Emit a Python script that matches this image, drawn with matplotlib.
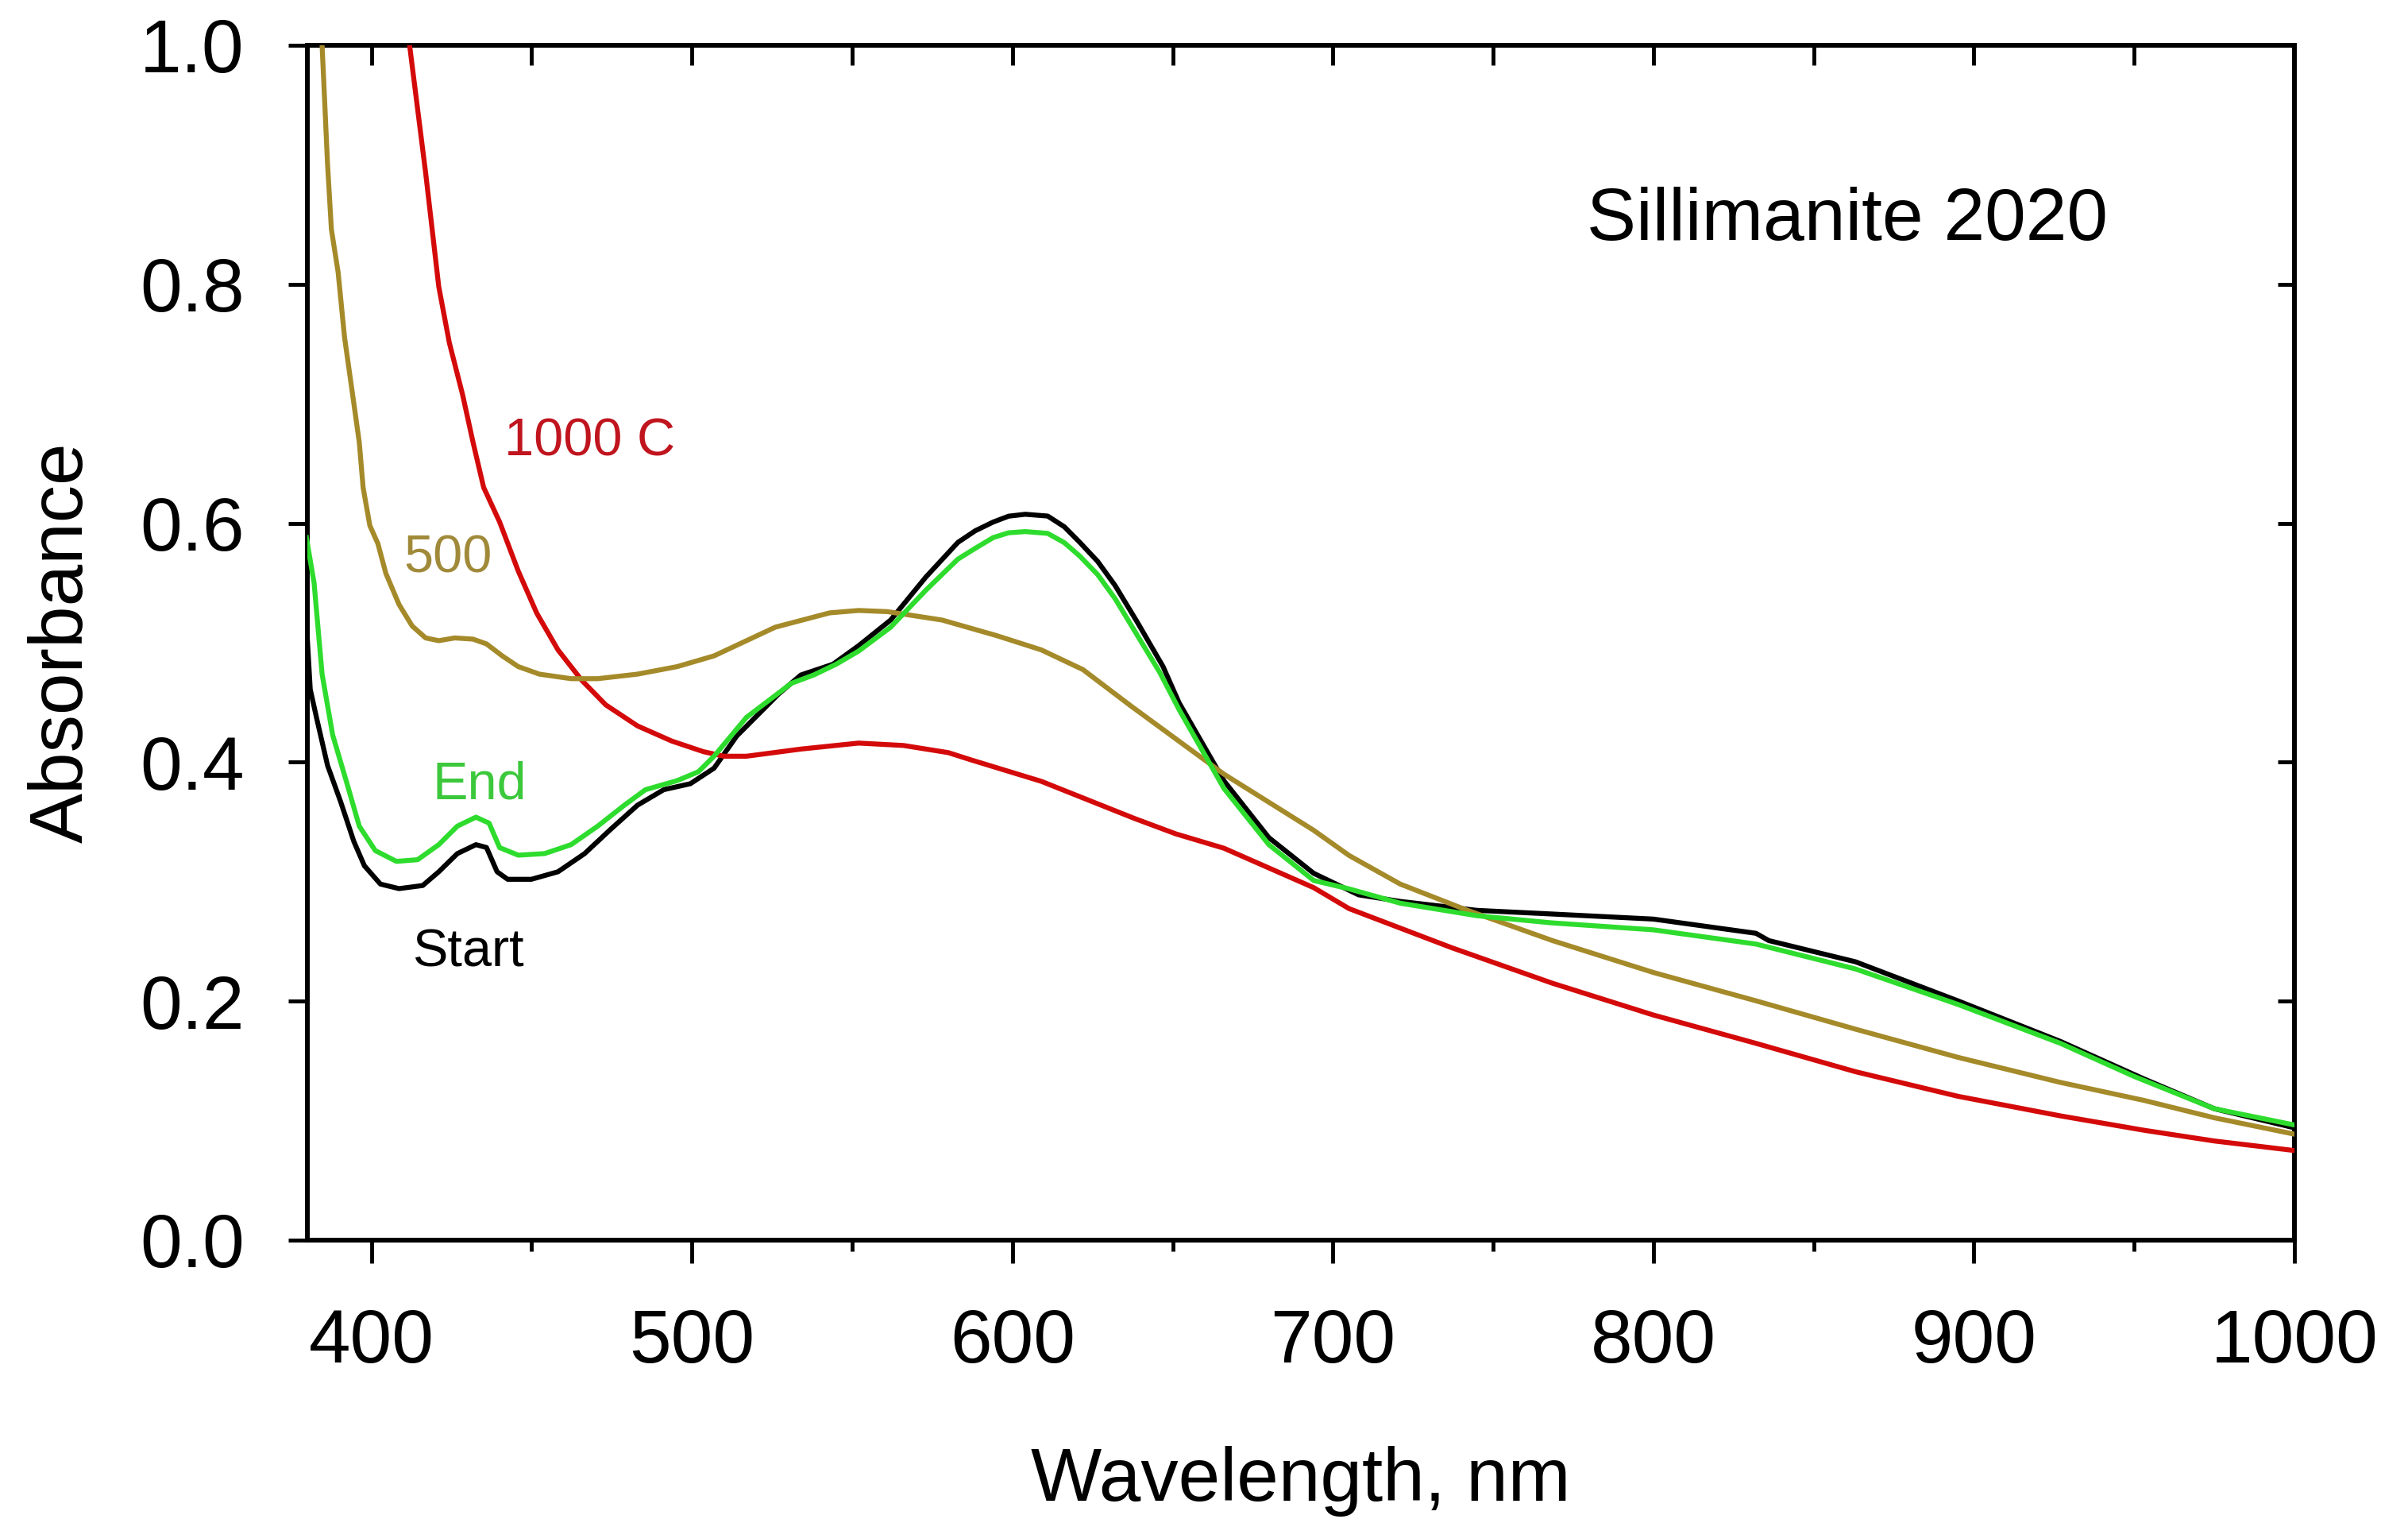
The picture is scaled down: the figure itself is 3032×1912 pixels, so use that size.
import numpy as np
import matplotlib
matplotlib.use("Agg")
import matplotlib.pyplot as plt

plt.rcParams['font.family'] = ['Liberation Sans', 'DejaVu Sans']

# ---- data ----
start_nm = [379.7, 380.9, 383, 386.3, 390.4, 394.5, 397.8, 402.8, 408.6, 416, 421, 426.8,
            432.6, 435.9, 439.2, 442.5, 449.9, 458.2, 466.5, 474.7, 483, 491.2, 499.5,
            506.9, 514, 527, 534, 544, 552, 562, 573, 583, 588.4, 594, 598.8, 604, 611,
            616.2, 621, 626.6, 632, 639, 647, 652, 666, 680, 694, 708, 721, 745, 768, 800,
            832, 836, 863, 895, 927, 953, 975, 1000]
start_abs = [0.517, 0.461, 0.4356, 0.3973, 0.3668, 0.3337, 0.3133, 0.298, 0.2942, 0.2968,
             0.3083, 0.3235, 0.331, 0.3286, 0.3083, 0.302, 0.302, 0.3083, 0.3235, 0.344,
             0.364, 0.377, 0.382, 0.395, 0.422, 0.457, 0.473, 0.482, 0.4975, 0.519, 0.555,
             0.584, 0.5937, 0.601, 0.6059, 0.6075, 0.606, 0.597, 0.584, 0.568, 0.548, 0.517,
             0.480, 0.4497, 0.3844, 0.3369, 0.307, 0.289, 0.2835, 0.276, 0.273, 0.2687,
             0.2568, 0.2507, 0.233, 0.2003, 0.1663, 0.135, 0.110, 0.094]

end_nm = [379.7, 382.1, 384.6, 387.9, 392.1, 396.2, 401.2, 407.8, 414.4, 421, 426.8, 432.6,
          436.7, 440, 445.8, 454, 462.3, 470.6, 478.9, 485.5, 495.4, 502, 506.9, 517, 531,
          538, 545, 552, 562, 573, 583, 588.4, 594, 598.8, 604, 611, 616.2, 621, 626.6,
          632, 639, 646, 652, 666, 680, 694, 705, 721, 745, 768, 800, 832, 863, 895, 927,
          950, 975, 1000]
end_abs = [0.588, 0.55, 0.4737, 0.4228, 0.3846, 0.3465, 0.326, 0.317, 0.3184, 0.331,
           0.3465, 0.354, 0.349, 0.3285, 0.3222, 0.3235, 0.331, 0.3465, 0.364, 0.377,
           0.3846, 0.392, 0.405, 0.4375, 0.466, 0.473, 0.482, 0.493, 0.513, 0.544, 0.570,
           0.579, 0.588, 0.592, 0.593, 0.5915, 0.5837, 0.5725, 0.557, 0.537, 0.506, 0.475,
           0.444, 0.378, 0.331, 0.301, 0.294, 0.282, 0.2715, 0.2656, 0.2597, 0.2478, 0.227,
           0.1973, 0.1647, 0.137, 0.110, 0.0964]

t500_nm = [380, 382, 384.6, 386.3, 387.5, 389.6, 391.6, 394.1, 396.2, 397.4, 399.5,
           402, 404.5, 408.6, 412.7, 416.9, 421, 426, 431.7, 435.9, 440.8, 445.8, 452.4,
           462.3, 470.6, 483, 495.4, 506.9, 526, 543, 552, 561, 578, 595, 609, 622, 637,
           666, 694, 705, 721, 742, 768.5, 800, 832, 863, 895, 927, 953, 975, 1000]
t500_abs = [1.30, 1.17, 1.0, 0.9005, 0.846, 0.810, 0.7556, 0.708, 0.6677, 0.6298,
            0.598, 0.583, 0.558, 0.532, 0.514, 0.504, 0.5017, 0.504, 0.503, 0.499, 0.489,
            0.480, 0.4737, 0.4699, 0.4699, 0.4737, 0.480, 0.489, 0.513, 0.525, 0.527,
            0.526, 0.519, 0.506, 0.494, 0.4775, 0.447, 0.390, 0.343, 0.322, 0.298, 0.276,
            0.2507, 0.224, 0.2003, 0.1766, 0.153, 0.132, 0.117, 0.1024, 0.0887]

t1000_nm = [380, 395, 405, 411.9, 416.9, 421, 424.3, 428.4, 431.7, 435, 440,
            445.8, 451.6, 458.2, 465.6, 473.1, 483, 493.7, 503.6, 510, 517, 534, 552, 566,
            580, 587, 609, 638, 651, 666, 694, 705, 737, 768.5, 800, 832, 863, 895, 927,
            953, 975, 1000]
t1000_abs = [1.8, 1.4, 1.15, 1.0, 0.8934, 0.798, 0.751, 0.708, 0.6677, 0.630,
             0.601, 0.560, 0.5246, 0.494, 0.4686, 0.448, 0.4304, 0.4177, 0.4088, 0.405,
             0.405, 0.411, 0.416, 0.414, 0.408, 0.402, 0.384, 0.353, 0.340, 0.328, 0.295,
             0.2775, 0.2448, 0.215, 0.1884, 0.1647, 0.141, 0.1204, 0.104, 0.092, 0.083,
             0.075]

x_ticks = [400, 500, 600, 700, 800, 900, 1000]
y_ticks = [0.0, 0.2, 0.4, 0.6, 0.8, 1.0]

c_black = '#000000'
c_green = '#2edc2e'
c_tan = '#a58a2a'
c_red = '#d40a0a'

fig = plt.figure(figsize=(30.32, 19.12), dpi=100)
ax = fig.add_axes([387/3032, 351/1912, (2889-387)/3032, (1561-57)/1912])

lw = 4.5
ax.plot(start_nm, start_abs, color=c_black, lw=lw, zorder=3)
ax.plot(t1000_nm, t1000_abs, color=c_red, lw=lw, zorder=3)
ax.plot(t500_nm, t500_abs, color=c_tan, lw=lw, zorder=3)
ax.plot(end_nm, end_abs, color=c_green, lw=lw, zorder=4)

ax.set_xlim(380, 1000)
ax.set_ylim(0, 1.0)

ax.set_xticks(x_ticks)
ax.set_xticks(np.arange(450, 1000, 100), minor=True)
ax.set_yticks(y_ticks)
ax.set_yticklabels([f"{v:.1f}" for v in y_ticks])

for s in ax.spines.values():
    s.set_linewidth(4.3)

ax.tick_params(axis='x', which='major', direction='out', length=21, width=3.5,
               labelsize=68, pad=40, top=False)
ax.tick_params(axis='x', which='minor', direction='out', length=10, width=3.5, top=False)
ax.tick_params(axis='y', which='major', direction='out', length=17, width=3.5,
               labelsize=68, pad=40, right=False)

top = ax.secondary_xaxis('top')
top.set_xticks(np.arange(400, 1001, 50))
top.set_xticklabels([])
top.tick_params(direction='in', length=18, width=3.5)
top.spines['top'].set_linewidth(4.3)

right = ax.secondary_yaxis('right')
right.set_yticks(y_ticks)
right.set_yticklabels([])
right.tick_params(direction='in', length=15, width=3.5)
right.spines['right'].set_linewidth(4.3)

ax.set_xlabel('Wavelength, nm', fontsize=68)
ax.set_ylabel('Absorbance', fontsize=68)
ax.xaxis.set_label_coords(0.5, -0.172)
ax.yaxis.set_label_coords(-0.105, 0.5)

ax.text(441.4, 0.6564, '1000 C', color='#c0141e', fontsize=48, ha='left', va='baseline')
ax.text(410.0, 0.5589, '500', color='#a08a3a', fontsize=48, ha='left', va='baseline')
ax.text(419.0, 0.3694, 'End', color='#3cc83c', fontsize=48, ha='left', va='baseline')
ax.text(412.6, 0.2293, 'Start', color='#000000', fontsize=48, ha='left', va='baseline')
ax.text(779.1, 0.8373, 'Sillimanite 2020', color='#000000', fontsize=67, ha='left',
        va='baseline')

fig.savefig('out.png', dpi=100)
